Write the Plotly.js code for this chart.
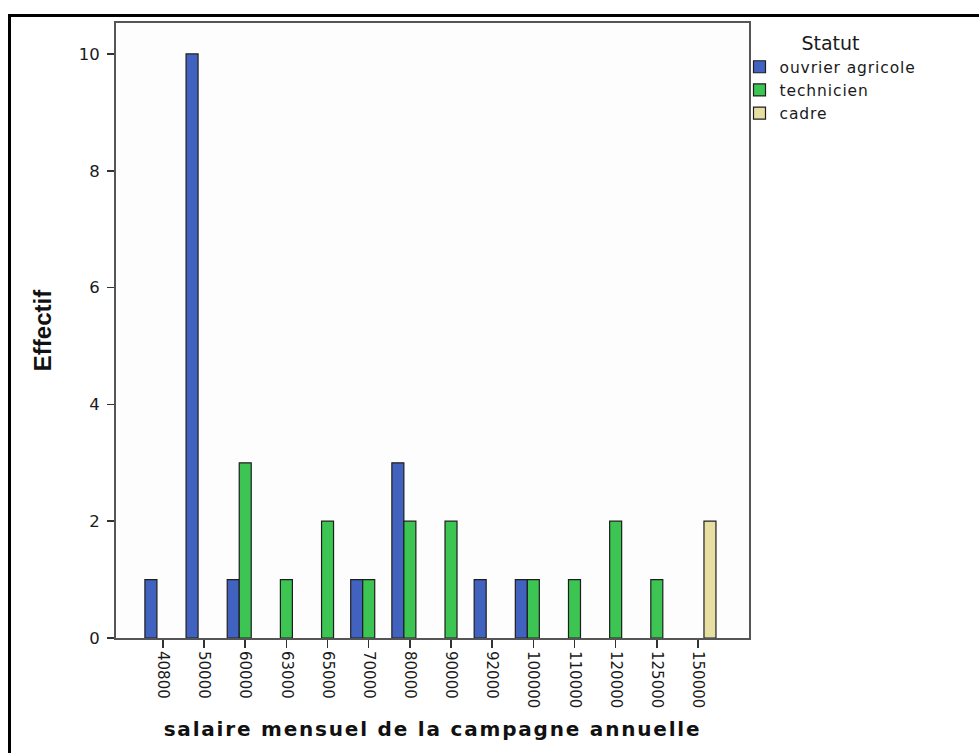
<!DOCTYPE html>
<html>
<head>
<meta charset="utf-8">
<script src="https://cdn.plot.ly/plotly-3.0.1.min.js"></script>
<style>
  html, body { margin: 0; padding: 0; background: #ffffff; overflow: hidden; }
  #wrap { position: relative; width: 979px; height: 753px; }
  #chart { position: absolute; left: 0; top: 0; width: 979px; height: 753px; }
  #frame { position: absolute; left: 8px; top: 14px; width: 2000px; height: 2000px;
           border-left: 3px solid #000; border-top: 3px solid #000; pointer-events: none; }
  .xtitle { letter-spacing: 1.8px; }
  .legendtext { letter-spacing: 0.9px; }
</style>
</head>
<body>
<div id="wrap">
  <div id="chart"></div>
  <div id="frame"></div>
</div>
<script>
// Categories: monthly salary of the annual campaign
const categories = ["40800", "50000", "60000", "63000", "65000", "70000", "80000",
                    "90000", "92000", "100000", "110000", "120000", "125000", "150000"];

// Counts (Effectif) per status
const ouvrierAgricole = [1, 10, 1, null, null, 1, 3, null, 1, 1, null, null, null, null];
const technicien      = [null, null, 3, 1, 2, 1, 2, 2, null, 1, 1, 2, 1, null];
const cadre           = [null, null, null, null, null, null, null, null, null, null, null, null, null, 2];

const seriesNames = ["ouvrier agricole", "technicien", "cadre"];
const yTicks = [0, 2, 4, 6, 8, 10];

const colors = ["#4262c0", "#3cc552", "#e6dea2"];
const seriesValues = [ouvrierAgricole, technicien, cadre];

const traces = seriesValues.map((vals, i) => ({
  type: "bar",
  name: seriesNames[i],
  x: categories,
  y: vals,
  marker: { color: colors[i], line: { color: "#1e1e1e", width: 1.2 } },
  hoverinfo: "x+y+name"
}));

const layout = {
  width: 979,
  height: 753,
  margin: { l: 116, r: 230, t: 23, b: 115, pad: 0 },
  paper_bgcolor: "rgba(0,0,0,0)",
  plot_bgcolor: "#fdfdfd",
  barmode: "group",
  bargap: 0.125,
  bargroupgap: 0,
  font: { family: "DejaVu Sans, Arial, sans-serif", color: "#1a1a1a" },
  xaxis: {
    type: "category",
    range: [-1.14, 14.24],
    tickangle: 90,
    ticks: "outside",
    ticklen: 8,
    tickwidth: 1.5,
    tickcolor: "#333",
    tickfont: { family: "DejaVu Sans, Arial, sans-serif", size: 15, color: "#1a1a1a" },
    showline: true,
    linecolor: "#555",
    linewidth: 2,
    mirror: true,
    showgrid: false,
    zeroline: false,
    automargin: false,
    title: {
      text: "salaire mensuel de la campagne annuelle",
      font: { family: "DejaVu Sans, Arial, sans-serif", size: 20, weight: "bold", color: "#111" },
      standoff: 15
    }
  },
  yaxis: {
    range: [0, 10.53],
    tickvals: yTicks,
    ticktext: yTicks.map(String),
    ticks: "outside",
    ticklen: 7,
    tickwidth: 1.5,
    tickcolor: "#333",
    ticklabelstandoff: 4,
    tickfont: { family: "DejaVu Sans, Arial, sans-serif", size: 16.5, color: "#1a1a1a" },
    showline: true,
    linecolor: "#555",
    linewidth: 2,
    mirror: true,
    showgrid: false,
    zeroline: false,
    automargin: false,
    title: {
      text: "Effectif",
      font: { family: "Liberation Sans, Arial, sans-serif", size: 24, weight: "bold", color: "#111" },
      standoff: 20
    }
  },
  showlegend: true,
  legend: {
    x: 0.985,
    xanchor: "left",
    y: 0.996,
    yanchor: "top",
    bgcolor: "rgba(0,0,0,0)",
    borderwidth: 0,
    font: { family: "DejaVu Sans, Arial, sans-serif", size: 15.5, color: "#1a1a1a" },
    title: { text: "Statut", side: "top center", font: { family: "DejaVu Sans, Arial, sans-serif", size: 19, color: "#1a1a1a" } },
    tracegroupgap: 0,
    itemclick: false
  }
};

Plotly.newPlot("chart", traces, layout, { displayModeBar: false, staticPlot: true });
</script>
</body>
</html>
